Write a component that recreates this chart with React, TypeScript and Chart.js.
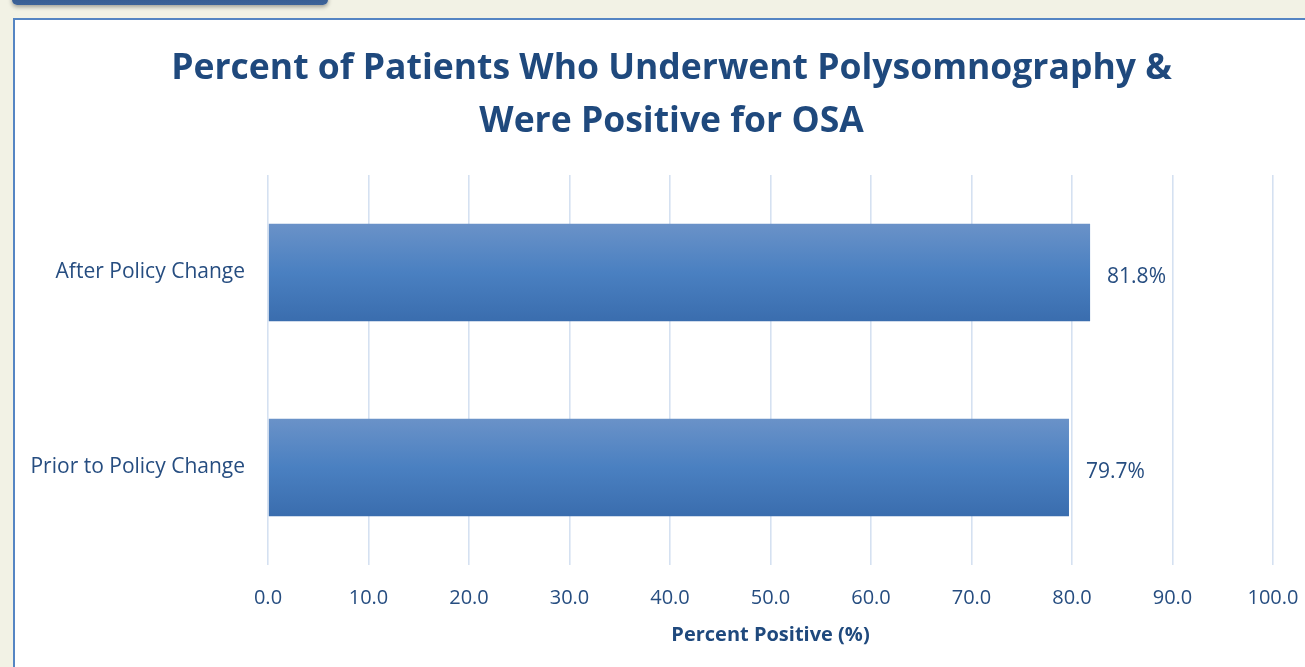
import React, { useEffect, useRef } from "react";
import { Chart, registerables } from "chart.js";

Chart.register(...registerables);

const categories = ["After Policy Change", "Prior to Policy Change"];
const percentPositive = [81.8, 79.7];
const titleLines = ["Percent of Patients Who Underwent Polysomnography &", "Were Positive for OSA"];
const xAxisTitle = "Percent Positive (%)";
const xMin = 0;
const xMax = 100;
const xStep = 10;

const FONT = "'Open Sans', Lato, sans-serif";
const TEXT_DARK = "#1f497d";
const TEXT = "#264d80";

const gradientBars = {
  id: "gradientBars",
  beforeDatasetsDraw(chart: any) {
    const ctx = chart.ctx;
    chart.getDatasetMeta(0).data.forEach((bar: any) => {
      const top = bar.y - bar.height / 2;
      const bottom = bar.y + bar.height / 2;
      const g = ctx.createLinearGradient(0, top, 0, bottom);
      g.addColorStop(0, "#6a92c8");
      g.addColorStop(0.5, "#4a80c1");
      g.addColorStop(1, "#3a6dae");
      bar.options.backgroundColor = g;
    });
  },
};

const valueLabels = {
  id: "valueLabels",
  afterDatasetsDraw(chart: any) {
    const ctx = chart.ctx;
    const ds = chart.data.datasets[0];
    ctx.save();
    ctx.font = `21px ${FONT}`;
    ctx.fillStyle = TEXT;
    ctx.textAlign = "left";
    ctx.textBaseline = "middle";
    chart.getDatasetMeta(0).data.forEach((bar: any, i: number) => {
      const v = ds.data[i] as number;
      ctx.fillText(`${v.toFixed(1)}%`, bar.x + 17, bar.y + 5);
    });
    ctx.restore();
  },
};

const chartTitle = {
  id: "chartTitle",
  afterDraw(chart: any) {
    const ctx = chart.ctx;
    ctx.save();
    ctx.font = `bold 35.5px ${FONT}`;
    ctx.fillStyle = TEXT_DARK;
    ctx.textAlign = "center";
    ctx.textBaseline = "alphabetic";
    titleLines.forEach((line, i) => {
      ctx.fillText(line, 671.5, 78.5 + i * 53);
    });
    ctx.restore();
  },
};

export default function App() {
  const ref = useRef<HTMLCanvasElement | null>(null);

  useEffect(() => {
    document.body.style.margin = "0";
    const canvas = ref.current!;
    const chart = new Chart(canvas, {
      type: "bar",
      data: {
        labels: categories,
        datasets: [
          {
            data: percentPositive,
            backgroundColor: () => "#4a80c1",
            borderWidth: 0,
            barPercentage: 0.5,
            categoryPercentage: 1,
          },
        ],
      },
      options: {
        indexAxis: "y",
        animation: false,
        responsive: false,
        maintainAspectRatio: false,
        layout: { padding: { left: 0, right: 32, top: 175, bottom: 0 } },
        plugins: {
          legend: { display: false },
          tooltip: { enabled: false },
          title: { display: false },
        },
        scales: {
          x: {
            min: xMin,
            max: xMax,
            border: { display: false },
            grid: { color: "#d5e1f1", lineWidth: 1.6, drawTicks: false },
            ticks: {
              stepSize: xStep,
              padding: 21,
              color: TEXT,
              font: { family: FONT, size: 20 },
              callback: (v: any) => Number(v).toFixed(1),
            },
            title: {
              display: true,
              text: xAxisTitle,
              color: TEXT_DARK,
              font: { family: FONT, size: 20, weight: "bold", lineHeight: 1.2 },
              padding: { top: 0, bottom: 20 },
            },
            afterFit: (s: any) => {
              s.height = 102;
              s.paddingLeft = 0;
              s.paddingRight = 0;
            },
          },
          y: {
            border: { display: false },
            grid: { display: false, drawTicks: false },
            ticks: {
              padding: 23,
              color: TEXT,
              font: { family: FONT, size: 21 },
            },
            afterFit: (s: any) => {
              s.width = 268;
            },
          },
        },
      },
      plugins: [gradientBars, valueLabels, chartTitle],
    });
    return () => chart.destroy();
  }, []);

  return (
    <div
      style={{
        position: "fixed",
        left: 0,
        top: 0,
        width: 1305,
        height: 667,
        overflow: "hidden",
        background: "#f2f2e5",
      }}
    >
      <div
        style={{
          position: "absolute",
          left: 12,
          top: -14,
          width: 316,
          height: 19,
          borderRadius: 5,
          background: "linear-gradient(#2c5287, #3d6399)",
          boxShadow: "0 2px 4px rgba(0,0,0,0.35)",
        }}
      />
      <div
        style={{
          position: "absolute",
          left: 13,
          top: 18,
          width: 1340,
          height: 700,
          border: "2px solid #5585c3",
          background: "#ffffff",
        }}
      />
      <canvas
        ref={ref}
        width={1305}
        height={667}
        style={{ position: "absolute", left: 0, top: 0, width: 1305, height: 667 }}
      />
    </div>
  );
}
